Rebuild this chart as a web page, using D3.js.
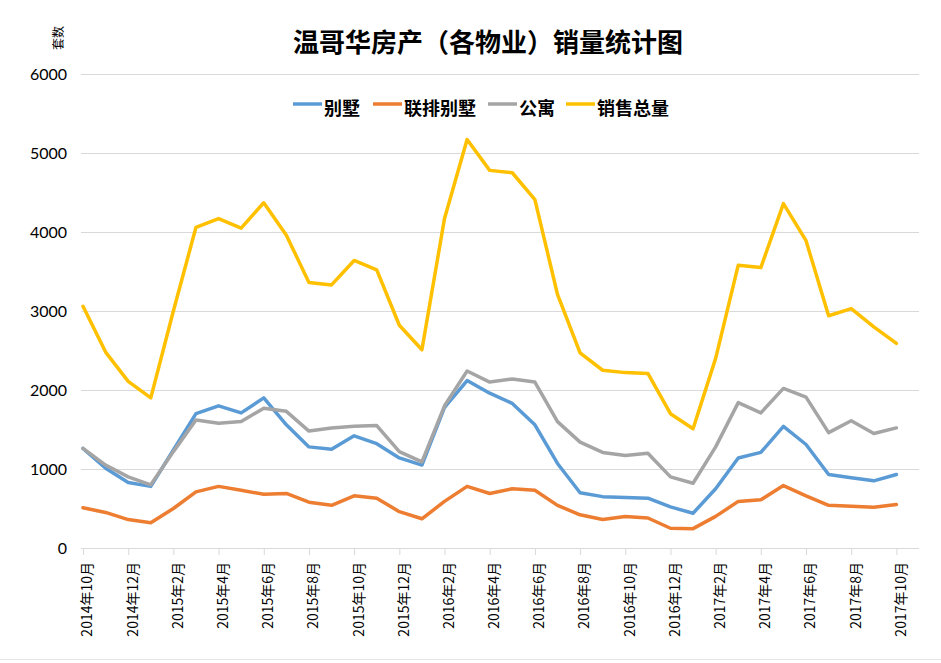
<!DOCTYPE html>
<html><head><meta charset="utf-8">
<script src="https://cdn.jsdelivr.net/npm/d3@7"></script>
<style>
body{margin:0;background:#fff;}
svg{display:block;}
</style></head>
<body>
<svg id="c" width="941" height="663"></svg>
<script>
const categories = ["2014年10月","2014年11月","2014年12月","2015年1月","2015年2月","2015年3月","2015年4月","2015年5月","2015年6月","2015年7月","2015年8月","2015年9月","2015年10月","2015年11月","2015年12月","2016年1月","2016年2月","2016年3月","2016年4月","2016年5月","2016年6月","2016年7月","2016年8月","2016年9月","2016年10月","2016年11月","2016年12月","2017年1月","2017年2月","2017年3月","2017年4月","2017年5月","2017年6月","2017年7月","2017年8月","2017年9月","2017年10月"];
const villa = [1260,1010,830,780,1240,1700,1800,1710,1900,1560,1280,1250,1420,1320,1140,1050,1780,2120,1960,1830,1560,1070,700,650,640,630,520,440,750,1140,1210,1540,1310,930,890,850,930];
const townhouse = [510,450,360,320,500,710,780,730,680,690,580,540,660,630,460,370,590,780,690,750,730,540,420,360,400,380,250,245,400,590,610,790,660,540,530,515,550];
const condo = [1260,1050,900,800,1220,1620,1580,1600,1770,1730,1480,1520,1540,1550,1220,1090,1800,2240,2100,2140,2100,1600,1340,1210,1170,1200,900,820,1280,1840,1710,2020,1910,1460,1610,1450,1520];
const total = [3060,2480,2110,1900,3000,4060,4170,4050,4370,3960,3360,3330,3640,3520,2820,2510,4170,5170,4780,4750,4410,3210,2470,2250,2220,2210,1700,1510,2400,3580,3550,4360,3890,2940,3030,2800,2590];
const seriesNames = ["别墅","联排别墅","公寓","销售总量"];
const seriesColors = ["#5B9BD5","#ED7D31","#A5A5A5","#FFC000"];
const yTicks = [0,1000,2000,3000,4000,5000,6000];
const allSeries = [villa, townhouse, condo, total];

const svg = d3.select("#c");
const pLeft = 81, pRight = 919, pTop = 74, pBottom = 548;
const x = d3.scaleLinear().domain([0, 37]).range([83, 919]);
const y = d3.scaleLinear().domain([0, 6000]).range([pBottom, pTop]);

// title
svg.append("text").attr("x", 488).attr("y", 52).attr("text-anchor", "middle")
  .style("font-family", "'Noto Sans CJK SC'").style("font-weight", "bold").style("font-size", "26px")
  .attr("fill", "#000").text("温哥华房产（各物业）销量统计图");

// y axis unit label
svg.append("text").attr("transform", "translate(63,38) rotate(-90)").attr("text-anchor", "middle")
  .style("font-family", "'Noto Sans CJK SC'").style("font-size", "12px").attr("fill", "#000").text("套数");

// y axis with gridlines
const yAxis = svg.append("g").attr("transform", `translate(${pLeft},0)`)
  .call(d3.axisLeft(y).tickValues(yTicks).tickFormat(d3.format("d")).tickSize(-(pRight - pLeft)).tickPadding(14));
yAxis.select(".domain").remove();
yAxis.selectAll(".tick line").attr("stroke", "#d9d9d9").attr("stroke-width", 1);
yAxis.selectAll(".tick text").style("font-family", "Lato, 'Noto Sans'").style("font-size", "16px").attr("fill", "#000");

// x axis
const evenIdx = categories.map((c, i) => i).filter(i => i % 2 === 0);
const xAxis = svg.append("g").attr("transform", `translate(0,${pBottom})`)
  .call(d3.axisBottom(x).tickValues(evenIdx).tickFormat(i => categories[i]).tickSize(7));
xAxis.select(".domain").attr("d", `M${pLeft},0.5H${pRight}`).attr("stroke", "#d9d9d9");
xAxis.selectAll(".tick line").attr("stroke", "#d9d9d9");
xAxis.selectAll(".tick text")
  .attr("transform", "rotate(-90)")
  .attr("text-anchor", "end")
  .attr("x", -14).attr("y", 4).attr("dy", "0.35em")
  .style("font-family", "'Noto Sans CJK SC'").style("font-size", "14px").attr("fill", "#000");

// lines
const line = d3.line().x((d, i) => x(i)).y(d => y(d));
allSeries.forEach((s, k) => {
  svg.append("path").datum(s).attr("d", line).attr("fill", "none")
    .attr("stroke", seriesColors[k]).attr("stroke-width", 3.5)
    .attr("stroke-linejoin", "round").attr("stroke-linecap", "round");
});

// legend
const legendX = [293, 373, 488, 566];
const lg = svg.append("g");
seriesNames.forEach((n, k) => {
  lg.append("line").attr("x1", legendX[k]).attr("x2", legendX[k] + 29).attr("y1", 104).attr("y2", 104)
    .attr("stroke", seriesColors[k]).attr("stroke-width", 3.5);
  lg.append("text").attr("x", legendX[k] + 31).attr("y", 115)
    .style("font-family", "'Noto Sans CJK SC'").style("font-weight", "bold").style("font-size", "18px")
    .attr("fill", "#000").text(n);
});

// faint bottom border
svg.append("line").attr("x1", 0).attr("x2", 941).attr("y1", 659.5).attr("y2", 659.5).attr("stroke", "#e6e6e6");
</script>
</body></html>
